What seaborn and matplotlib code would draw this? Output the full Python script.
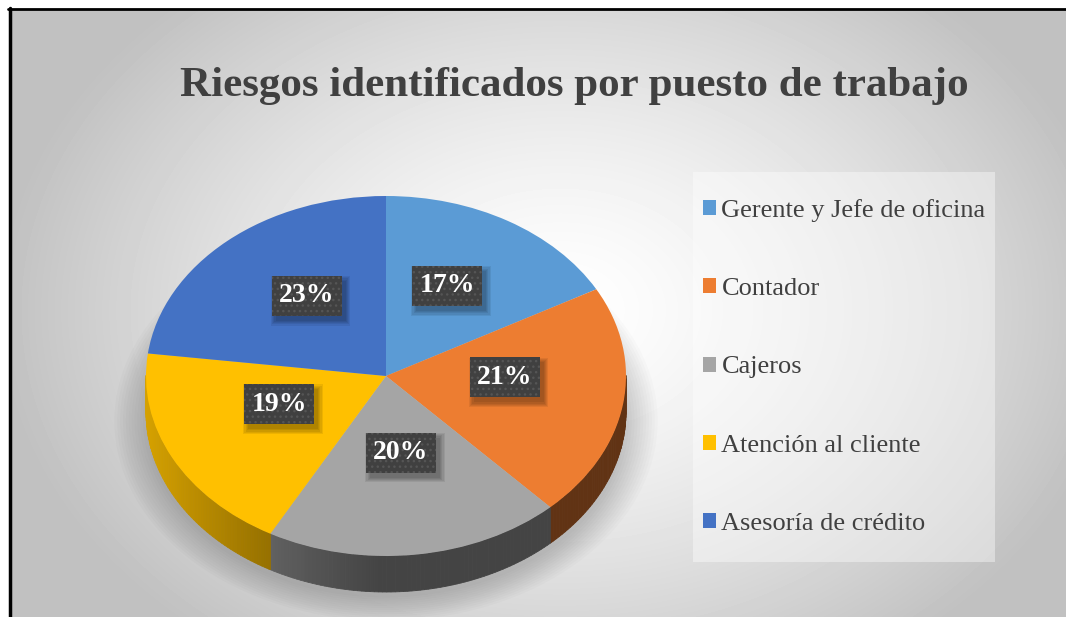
import numpy as np
import matplotlib
matplotlib.use("Agg")
import matplotlib.pyplot as plt
from matplotlib.patches import Polygon, Ellipse, Rectangle
from matplotlib.lines import Line2D
import seaborn as sns

title = "Riesgos identificados por puesto de trabajo"
puestos = ["Gerente y Jefe de oficina", "Contador", "Cajeros",
           "Atención al cliente", "Asesoría de crédito"]
porcentajes = [17, 21, 20, 19, 23]
colores = ["#5B9BD5", "#ED7D31", "#A5A5A5", "#FFC000", "#4472C4"]

sns.set_style("white")
plt.rcParams["font.family"] = ["Liberation Serif", "DejaVu Serif"]

W, H = 1066, 617
fig = plt.figure(figsize=(W / 100, H / 100), dpi=100)
fig.patch.set_facecolor("white")

# background with radial gradient
bg = fig.add_axes([0, 0, 1, 1])
bg.set_xlim(0, W)
bg.set_ylim(H, 0)
bg.axis("off")
xx, yy = np.meshgrid(np.arange(11, W), np.arange(10, H))
d = np.sqrt(((xx - 560) / 560.0) ** 2 + ((yy - 310) / 420.0) ** 2)
val = (255 - 62 * np.clip(d, 0, 1) ** 1.4) / 255.0
bg.imshow(val, cmap="gray", vmin=0, vmax=1, extent=(11, W, H, 10),
          aspect="auto", interpolation="bilinear")
bg.add_line(Line2D([9.5, 9.5], [8, H], color="black", lw=2.5))
bg.add_line(Line2D([8, W], [9, 9], color="black", lw=2.0))
# legend background panel
bg.add_patch(Rectangle((693, 172), 302, 390, facecolor="white", alpha=0.4, lw=0))

# pie axes: ellipse centered at (386, 376), rx 240, ry 180 px
cx, cy, rx, ry = 386, 376, 240, 180
ax = fig.add_axes([(cx - rx) / W, 1 - (cy + ry) / H, 2 * rx / W, 2 * ry / H])
depth = 36 / ry

# soft shadow under the pie
for k in range(12):
    s = 1.0 + 0.012 * k
    ax.add_patch(Ellipse((0.0, -depth - 0.05), 2 * s, 2 * s * 0.98,
                         facecolor="black", alpha=0.016, lw=0, clip_on=False,
                         zorder=0.2))

wedges, _ = ax.pie(porcentajes, colors=colores, startangle=90,
                   counterclock=False, wedgeprops=dict(linewidth=0))
ax.set_aspect("auto")
ax.set_xlim(-1, 1)
ax.set_ylim(-1, 1)
ax.axis("off")

# side walls of the 3D pie (front half only)
for w, c in zip(wedges, colores):
    t1, t2 = w.theta1 % 360, w.theta2 % 360
    if t2 <= t1:
        t2 += 360
    base = np.array(matplotlib.colors.to_rgb(c))
    for t in np.arange(t1, t2, 1.0):
        a0, a1 = t, min(t + 1.0, t2)
        m = (0.5 * (a0 + a1)) % 360
        if not (180 <= m <= 360):
            continue
        xa, xb = np.cos(np.radians(a0)), np.cos(np.radians(a1))
        ya, yb = np.sin(np.radians(a0)), np.sin(np.radians(a1))
        xm = np.cos(np.radians(m))
        f = 0.41 + 0.43 * max(0.0, -xm) ** 1.2
        col = np.clip(base * f, 0, 1)
        ax.add_patch(Polygon([(xa, ya), (xb, yb), (xb, yb - depth), (xa, ya - depth)],
                             closed=True, facecolor=col, edgecolor=col, lw=0.6,
                             clip_on=False, zorder=0.5))

# data labels
bw, bh = 70 / rx, 40 / ry
for w, p in zip(wedges, porcentajes):
    m = np.radians(0.5 * (w.theta1 + w.theta2))
    r = 0.5
    lx, ly = r * np.cos(m), r * np.sin(m) + 0.07
    # blurred drop shadow
    for k in range(5):
        g = (4 - k) * 1.2
        ax.add_patch(Rectangle((lx - bw / 2 + 4 / rx - g / rx, ly - bh / 2 - 5 / ry - g / ry),
                               bw + 2 * g / rx, bh + 2 * g / ry, facecolor="black",
                               alpha=0.07, lw=0, zorder=2.5, clip_on=False))
    ax.add_patch(Rectangle((lx - bw / 2, ly - bh / 2), bw, bh, facecolor="#404040",
                           edgecolor="#555555", hatch="...", lw=0, zorder=3,
                           clip_on=False))
    ax.text(lx, ly, f"{p}%", ha="center", va="center", color="white",
            fontsize=20, fontweight="bold", zorder=4)

fig.text(574 / W, 1 - 86 / H, title, ha="center", va="center",
         fontsize=31, fontweight="bold", color="#404040")

leg = fig.legend(wedges, puestos, loc="upper left",
                 bbox_to_anchor=(703 / W, 1 - 199 / H), frameon=False,
                 fontsize=19, labelspacing=2.13, handlelength=0.5,
                 handleheight=0.5, handletextpad=0.2, borderpad=0,
                 borderaxespad=0)
for t in leg.get_texts():
    t.set_color("#404040")

fig.savefig("out.png", dpi=100)
